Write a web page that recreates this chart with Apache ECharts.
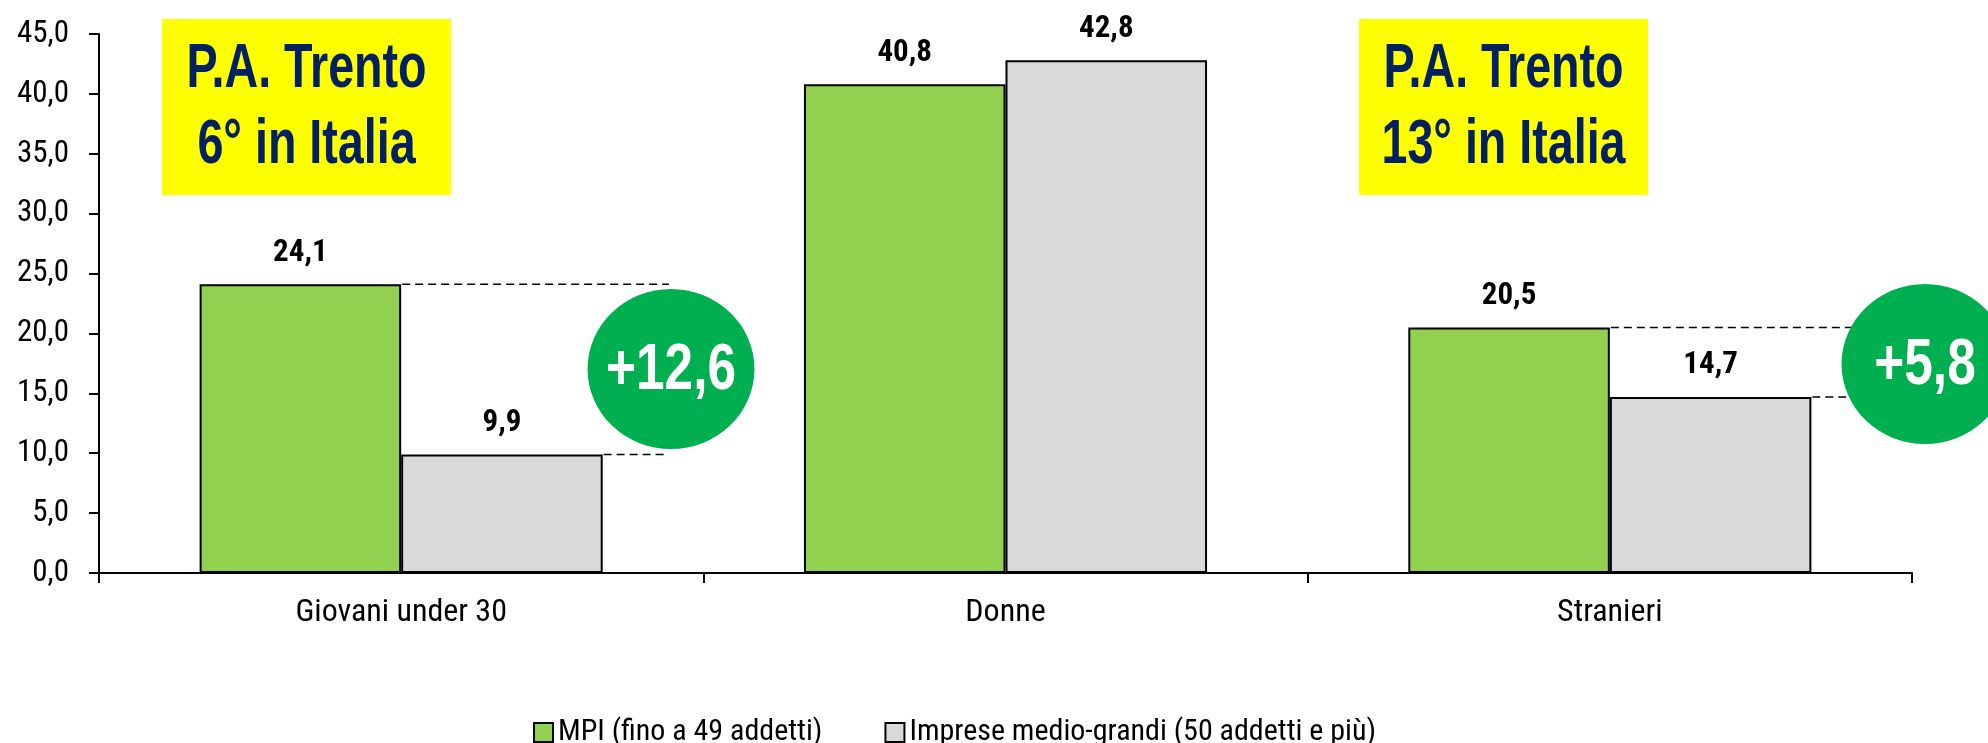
<!DOCTYPE html>
<html><head><meta charset="utf-8">
<script src="https://cdn.jsdelivr.net/npm/echarts@6/dist/echarts.min.js"></script>
<style>html,body{margin:0;padding:0;background:#fff}#c{width:1988px;height:743px}</style>
</head><body><div id="c"></div>
<script>
const categories = ['Giovani under 30', 'Donne', 'Stranieri'];
const seriesNames = ['MPI (fino a 49 addetti)', 'Imprese medio-grandi (50 addetti e più)'];
const mpiValues = [24.1, 40.8, 20.5];
const grandiValues = [9.9, 42.8, 14.7];
const yMin = 0, yMax = 45, yInterval = 5;
const gapCategoryIndex = [0, 2];
const gapLabels = ['+12,6', '+5,8'];
const boxLines = [['P.A. Trento', '6° in Italia'], ['P.A. Trento', '13° in Italia']];

const FONT = "'Liberation Sans Narrow', 'Arial Narrow', 'Roboto Condensed', 'DejaVu Sans Condensed', sans-serif";
const comma = v => Number(v).toFixed(1).replace('.', ',');

const chart = echarts.init(document.getElementById('c'), null, {renderer: 'canvas'});
const grid = {left: 99, right: 76, top: 34, bottom: 170};

const option = {
  animation: false,
  backgroundColor: '#ffffff',
  grid: grid,
  legend: {
    data: seriesNames,
    left: 528, top: 712,
    icon: 'rect', itemWidth: 19, itemHeight: 19, itemGap: 62,
    itemStyle: {borderColor: '#000', borderWidth: 2},
    textStyle: {fontFamily: FONT, fontSize: 30, color: '#000', lineHeight: 31}
  },
  xAxis: {
    type: 'category', data: categories,
    axisLine: {lineStyle: {color: '#000', width: 2}},
    axisTick: {show: true, length: 10, lineStyle: {color: '#000', width: 2}},
    axisLabel: {fontFamily: FONT, fontSize: 32, color: '#000', margin: 24}
  },
  yAxis: {
    type: 'value', min: yMin, max: yMax, interval: yInterval,
    splitLine: {show: false},
    axisLine: {show: true, lineStyle: {color: '#000', width: 2}},
    axisTick: {show: true, length: 10, lineStyle: {color: '#000', width: 2}},
    axisLabel: {fontFamily: FONT, fontSize: 31, color: '#000', margin: 30, formatter: comma}
  },
  series: [
    {
      name: seriesNames[0], type: 'bar', data: mpiValues,
      barGap: '0%', barCategoryGap: '33.3%',
      itemStyle: {color: '#92D050', borderColor: '#000', borderWidth: 2},
      label: {show: true, position: 'top', distance: 16, formatter: p => comma(p.value),
        fontFamily: FONT, fontSize: 31, fontWeight: 'bold', color: '#000'}
    },
    {
      name: seriesNames[1], type: 'bar', data: grandiValues,
      barGap: '0%', barCategoryGap: '33.3%',
      itemStyle: {color: '#D9D9D9', borderColor: '#000', borderWidth: 2},
      label: {show: true, position: 'top', distance: 16, formatter: p => comma(p.value),
        fontFamily: FONT, fontSize: 31, fontWeight: 'bold', color: '#000'}
    }
  ]
};
chart.setOption(option);

// annotation overlay
const circles = [{cx: 671, cy: 369, rx: 83.5, ry: 80}, {cx: 1925, cy: 364, rx: 83.5, ry: 80}];
const boxes = [{x: 162, y: 19, w: 289, h: 176}, {x: 1359, y: 19, w: 289, h: 176}];
const graphics = [];

const c0 = chart.convertToPixel({xAxisIndex: 0}, 0);
const c1 = chart.convertToPixel({xAxisIndex: 0}, 1);
const band = c1 - c0;
gapCategoryIndex.forEach((ci, k) => {
  const cx = chart.convertToPixel({xAxisIndex: 0}, ci);
  const yA = chart.convertToPixel({yAxisIndex: 0}, mpiValues[ci]);
  const yB = chart.convertToPixel({yAxisIndex: 0}, grandiValues[ci]);
  const endX = circles[k].cx - 2;
  const ls = {stroke: '#000', lineWidth: 1.5, lineDash: [8, 5]};
  graphics.push({type: 'line', z: 50, shape: {x1: cx + 1, y1: yA, x2: endX, y2: yA}, style: ls});
  graphics.push({type: 'line', z: 50, shape: {x1: cx + band / 3 + 1, y1: yB, x2: endX - 5, y2: yB}, style: ls});
  graphics.push({type: 'group', z: 60, x: circles[k].cx, y: circles[k].cy,
    scaleX: circles[k].rx / circles[k].ry, children: [
      {type: 'circle', z: 60, shape: {cx: 0, cy: 0, r: circles[k].ry}, style: {fill: '#00B050'}}
  ]});
  graphics.push({type: 'group', z: 61, x: circles[k].cx, y: circles[k].cy + 2, scaleX: 0.79, children: [
    {type: 'text', z: 61, style: {text: gapLabels[k], x: 0, y: 0, align: 'center', verticalAlign: 'middle',
      font: "bold 65px 'Liberation Sans', Arial, sans-serif", fill: '#fff'}}
  ]});
});
boxes.forEach((b, k) => {
  graphics.push({type: 'rect', z: 40, shape: {x: b.x, y: b.y, width: b.w, height: b.h}, style: {fill: '#FFFF00'}});
  graphics.push({type: 'group', z: 41, x: b.x + b.w / 2, y: b.y, scaleX: 0.74, children: [
    {type: 'text', z: 41, style: {text: boxLines[k][0], x: 0, y: 51, align: 'center', verticalAlign: 'middle',
      font: "bold 63px 'Liberation Sans', Arial, sans-serif", fill: '#002060'}},
    {type: 'text', z: 41, style: {text: boxLines[k][1], x: 0, y: 127, align: 'center', verticalAlign: 'middle',
      font: "bold 63px 'Liberation Sans', Arial, sans-serif", fill: '#002060'}}
  ]});
});
chart.setOption({graphic: {elements: graphics}});
</script>
</body></html>
